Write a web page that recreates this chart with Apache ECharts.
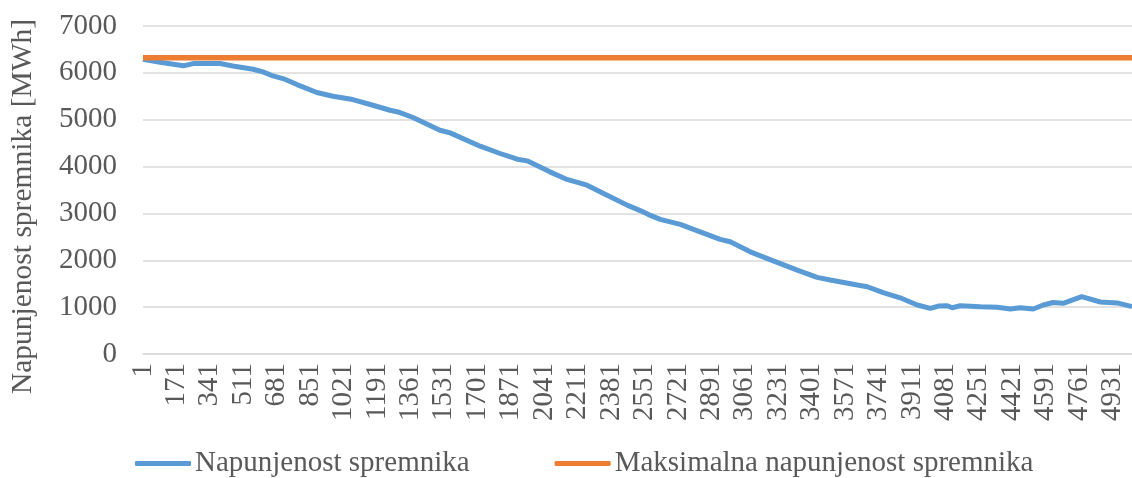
<!DOCTYPE html>
<html>
<head>
<meta charset="utf-8">
<script src="https://cdn.jsdelivr.net/npm/echarts@6/dist/echarts.min.js"></script>
<style>
  html, body { margin: 0; padding: 0; background: #fff; }
  #chart { width: 1132px; height: 478px; }
</style>
</head>
<body>
<div id="chart"></div>
<script>
// Sample index (hour of the run) and storage fill level [MWh]
const sampleIndex = [1, 88, 206, 256, 393, 458, 561, 611, 662, 713, 784, 885, 967, 1068, 1170,
  1257, 1298, 1374, 1511, 1563, 1715, 1817, 1904, 1954, 2070, 2157, 2259, 2361, 2463, 2529,
  2569, 2631, 2733, 2834, 2936, 2987, 3089, 3206, 3328, 3429, 3496, 3633, 3684, 3765, 3851,
  3938, 4005, 4045, 4091, 4116, 4157, 4259, 4345, 4411, 4462, 4528, 4579, 4629, 4680, 4774,
  4869, 4955, 5021, 5030];
const fillLevel = [6290, 6226, 6150, 6198, 6200, 6145, 6077, 6020, 5934, 5878, 5750, 5580, 5501, 5430, 5309,
  5202, 5166, 5047, 4776, 4719, 4435, 4279, 4158, 4122, 3887, 3725, 3603, 3390, 3177, 3060,
  2980, 2872, 2765, 2608, 2446, 2395, 2181, 1989, 1791, 1635, 1578, 1471, 1435, 1310, 1200,
  1045, 974, 1023, 1030, 988, 1030, 1009, 996, 960, 988, 960, 1045, 1100, 1081, 1225,
  1110, 1090, 1023, 1010];
const maxFillLevel = 6320;

// Axis extents and tick labels
const xFirst = 1, xLast = 5030, xStep = 170;
const yMin = 0, yMax = 7000, yStep = 1000;

const seriesNames = ['Napunjenost spremnika', 'Maksimalna napunjenost spremnika'];
const yAxisTitle = 'Napunjenost spremnika [MWh]';

const fillData = sampleIndex.map((x, i) => [x, fillLevel[i]]);
const maxData = [[xFirst, maxFillLevel], [xLast, maxFillLevel]];

const font = 'Liberation Serif, Times New Roman, serif';
const textColor = '#595959';

const chart = echarts.init(document.getElementById('chart'), null, { renderer: 'canvas' });
chart.setOption({
  animation: false,
  backgroundColor: '#ffffff',
  grid: { left: 143, right: 0, top: 26, bottom: 124, containLabel: false },
  legend: {
    left: 130,
    top: 444,
    itemWidth: 56,
    itemHeight: 5,
    itemGap: 85,
    icon: 'roundRect',
    textStyle: { fontFamily: font, fontSize: 29, color: textColor, padding: [0, 0, 0, -1] },
    data: seriesNames
  },
  xAxis: {
    type: 'value',
    min: xFirst,
    max: xLast,
    interval: xStep,
    axisLine: { show: true, lineStyle: { color: '#d9d9d9', width: 1.5 } },
    axisTick: { show: false },
    splitLine: { show: false },
    axisLabel: {
      rotate: 90,
      margin: 9,
      fontFamily: font,
      fontSize: 29,
      color: textColor,
      showMaxLabel: false,
      formatter: v => ((v - xFirst) % xStep === 0 ? String(v) : '')
    }
  },
  yAxis: {
    type: 'value',
    min: yMin,
    max: yMax,
    interval: yStep,
    name: yAxisTitle,
    nameLocation: 'middle',
    nameGap: 105,
    nameTextStyle: { fontFamily: font, fontSize: 29.5, color: textColor, padding: [0, 33, 0, 0] },
    axisLine: { show: false },
    axisTick: { show: false },
    splitLine: { lineStyle: { color: '#d9d9d9', width: 1.5 } },
    axisLabel: { margin: 26, fontFamily: font, fontSize: 29, color: textColor, formatter: v => String(v) }
  },
  series: [
    {
      name: seriesNames[0],
      type: 'line',
      data: fillData,
      symbol: 'none',
      lineStyle: { color: '#5b9bd5', width: 5 },
      itemStyle: { color: '#5b9bd5' },
      z: 2
    },
    {
      name: seriesNames[1],
      type: 'line',
      data: maxData,
      symbol: 'none',
      lineStyle: { color: '#ed7d31', width: 5.5 },
      itemStyle: { color: '#ed7d31' },
      z: 3
    }
  ]
});
</script>
</body>
</html>
